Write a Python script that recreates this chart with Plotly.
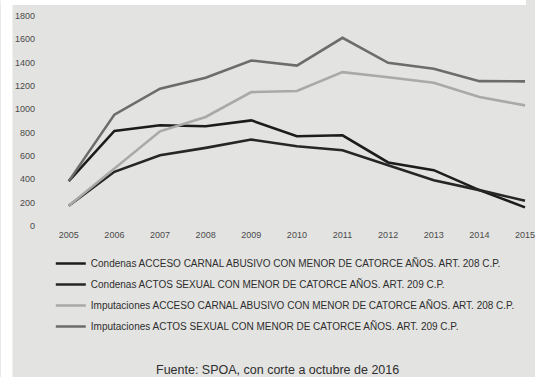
import plotly.graph_objects as go

years = [2005, 2006, 2007, 2008, 2009, 2010, 2011, 2012, 2013, 2014, 2015]

condenas_208 = [382, 812, 861, 852, 903, 767, 775, 542, 476, 305, 157]
condenas_209 = [171, 462, 604, 667, 738, 681, 647, 519, 390, 305, 214]
imputaciones_208 = [171, 490, 809, 932, 1145, 1154, 1316, 1273, 1225, 1103, 1031]
imputaciones_209 = [382, 952, 1174, 1268, 1416, 1372, 1610, 1396, 1345, 1239, 1237]

series_names = [
    "Condenas ACCESO CARNAL ABUSIVO CON MENOR DE CATORCE AÑOS. ART. 208 C.P.",
    "Condenas ACTOS SEXUAL CON MENOR DE CATORCE AÑOS. ART. 209 C.P.",
    "Imputaciones ACCESO CARNAL ABUSIVO CON MENOR DE CATORCE AÑOS. ART. 208 C.P.",
    "Imputaciones ACTOS SEXUAL CON MENOR DE CATORCE AÑOS. ART. 209 C.P.",
]
series_values = [condenas_208, condenas_209, imputaciones_208, imputaciones_209]
series_colors = ["#1c1c1c", "#262626", "#a9a9a9", "#6c6c6c"]

y_ticks = [0, 200, 400, 600, 800, 1000, 1200, 1400, 1600, 1800]

fig = go.Figure()
for i, (name, vals, col) in enumerate(zip(series_names, series_values, series_colors)):
    fig.add_trace(go.Scatter(
        x=years, y=vals, mode="lines", name=name,
        line=dict(color=col, width=2.6),
        legendgroup=f"g{i}",
    ))

bg = "#e3e3e1"
fig.update_layout(
    width=535, height=377,
    margin=dict(l=40, r=0, t=5, b=149),
    paper_bgcolor=bg, plot_bgcolor=bg,
    font=dict(family="Liberation Sans, Arial, sans-serif", color="#3a3a3a", size=9),
    showlegend=True,
    legend=dict(
        x=(51 - 40) / 495, y=-(249 - 228) / 223, xanchor="left", yanchor="top",
        bgcolor="rgba(0,0,0,0)", font=dict(size=10, color="#2e2e2e"),
        itemwidth=30, tracegroupgap=2,
    ),
    xaxis=dict(
        range=[2005 - 29 / 46, 2015 + 1 / 46], tickvals=years,
        showgrid=False, zeroline=False, showline=False, ticks="",
        tickfont=dict(size=9, color="#4a4a4a"), ticklabeloverflow="allow",
    ),
    yaxis=dict(
        range=[-19.7, 1891.5], tickvals=y_ticks,
        showgrid=False, zeroline=False, showline=False, ticks="",
        tickfont=dict(size=9, color="#4a4a4a"), ticklabelstandoff=4,
    ),
    annotations=[dict(
        text="Fuente: SPOA, con corte a octubre de 2016",
        xref="paper", yref="paper", x=(282 - 40) / 495, y=-(370 - 228) / 223,
        xanchor="center", yanchor="middle", showarrow=False,
        font=dict(size=12.5, color="#2e2e2e"),
    )],
    shapes=[
        dict(type="rect", xref="paper", yref="paper",
             x0=-40 / 495, x1=-28 / 495, y0=-149 / 223, y1=1 + 5 / 223,
             fillcolor="white", line=dict(width=0), layer="below"),
        dict(type="rect", xref="paper", yref="paper",
             x0=-40 / 495, x1=1, y0=1, y1=1 + 5 / 223,
             fillcolor="white", line=dict(width=0), layer="below"),
    ],
)

fig.write_html("out.html")
